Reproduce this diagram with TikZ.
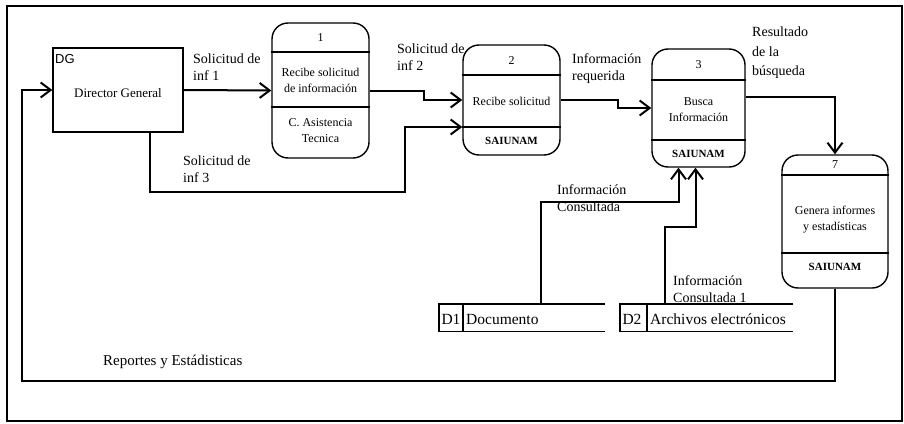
\documentclass[tikz,border=0pt]{standalone}
\usepackage{fontspec}
\setmainfont{Liberation Serif}
\newfontfamily\arialfont{Liberation Sans}
\usetikzlibrary{arrows.meta,calc}
\begin{document}
\begin{tikzpicture}[x=1pt,y=-1pt,
  flow/.style={line width=2pt,-{Straight Barb[length=10pt,width=15pt,line width=2pt]}},
  boxline/.style={line width=1.4pt},
  proc/.style={draw,line width=1.4pt,rounded corners=16pt,inner sep=0pt},
  lbl/.style={font=\fontsize{14}{17}\selectfont,align=left,anchor=north west,inner sep=0pt},
  ptxt/.style={font=\fontsize{12}{16}\selectfont,align=center,inner sep=0pt},
  pbold/.style={font=\fontsize{11}{14}\selectfont\bfseries,inner sep=0pt},
  stxt/.style={font=\fontsize{15.5}{18}\selectfont,inner sep=0pt}]
\useasboundingbox (0,0) rectangle (904,423);
% frame
\draw[line width=1.5pt] (7,6) rectangle (902,421);

% Director General
\node[draw,line width=1.4pt,minimum width=130pt,minimum height=84pt,inner sep=0pt] (dg) at (118,90) {};
\node[anchor=west,inner sep=0pt,font=\arialfont\fontsize{13}{15}\selectfont] (dgl) at (55,59) {DG};
\node[font=\fontsize{13}{16}\selectfont,inner sep=0pt] (dgt) at (118,93) {Director General};

% Process 1
\node[proc,minimum width=97pt,minimum height=135pt] (p1) at (320.5,90.5) {};
\draw[boxline] (p1.west |- 0,52) -- (p1.east |- 0,52);
\draw[boxline] (p1.west |- 0,107) -- (p1.east |- 0,107);
\node[ptxt] (p1n) at (320.5,38) {1};
\node[ptxt] (p1t) at (320.5,80) {Recibe solicitud\\de información};
\node[ptxt] (p1s) at (320.5,131) {C. Asistencia\\Tecnica};

% Process 2
\node[proc,minimum width=97pt,minimum height=110pt] (p2) at (511.5,100) {};
\draw[boxline] (p2.west |- 0,75) -- (p2.east |- 0,75);
\draw[boxline] (p2.west |- 0,127) -- (p2.east |- 0,127);
\node[ptxt] (p2n) at (511.5,61) {2};
\node[ptxt] (p2t) at (511.5,101) {Recibe solicitud};
\node[pbold] (p2s) at (511.5,141) {SAIUNAM};

% Process 3
\node[proc,minimum width=93pt,minimum height=118pt] (p3) at (698.5,108) {};
\draw[boxline] (p3.west |- 0,80) -- (p3.east |- 0,80);
\draw[boxline] (p3.west |- 0,140) -- (p3.east |- 0,140);
\node[ptxt] (p3n) at (698.5,65) {3};
\node[ptxt] (p3t) at (698.5,110) {Busca\\Información};
\node[pbold] (p3s) at (698.5,154) {SAIUNAM};

% Process 7
\node[proc,minimum width=106pt,minimum height=133pt] (p7) at (835,221.5) {};
\draw[boxline] (p7.west |- 0,175) -- (p7.east |- 0,175);
\draw[boxline] (p7.west |- 0,253) -- (p7.east |- 0,253);
\node[ptxt] (p7n) at (835,165) {7};
\node[ptxt] (p7t) at (835,220) {Genera informes\\y estadísticas};
\node[pbold] (p7s) at (835,267) {SAIUNAM};

% Data stores
\node[minimum width=166pt,minimum height=27pt,inner sep=0pt] (d1) at (522,317.5) {};
\draw[boxline] (d1.north east) -- (d1.north west) -- (d1.south west) -- (d1.south east);
\draw[boxline] ([xshift=24pt]d1.north west) -- ([xshift=24pt]d1.south west);
\node[stxt] (d1id) at (451,319) {D1};
\node[stxt,anchor=west] (d1t) at (466,319) {Documento};

\node[minimum width=173pt,minimum height=27pt,inner sep=0pt] (d2) at (706.5,317.5) {};
\draw[boxline] (d2.north east) -- (d2.north west) -- (d2.south west) -- (d2.south east);
\draw[boxline] ([xshift=27pt]d2.north west) -- ([xshift=27pt]d2.south west);
\node[stxt] (d2id) at (632,319) {D2};
\node[stxt,anchor=west] (d2t) at (650,319) {Archivos electrónicos};

% connectors
\draw[flow] (dg.east) -- (p1.west);
\draw[flow] (p1.east) -- ++(54,0) |- (p2.west);
\draw[flow] ([xshift=32pt]dg.south) |- (405,192) |- ([yshift=-27pt]p2.west);
\draw[flow] (p2.east) -- ++(57,0) |- (p3.west);
\draw[flow] ([yshift=11pt]p3.east) -| (p7.north);
\draw[flow] (p7.south) |- (22,381) |- (dg.west);
\draw[flow] ([xshift=19pt]d1.north) |- (678.5,202) -- ([xshift=-20pt]p3.south);
\draw[flow] ([xshift=-41.5pt]d2.north) |- (695.5,227) -- ([xshift=-3pt]p3.south);

% labels
\node[lbl] (l1) at (193,54) {Solicitud de\\inf 1};
\node[lbl] (l2) at (397,44) {Solicitud de\\inf 2};
\node[lbl] (l3) at (183,156) {Solicitud de\\inf 3};
\node[lbl] (l4) at (572,53) {Información\\requerida};
\node[lbl,font=\fontsize{14}{19.5}\selectfont] (l5) at (752,27) {Resultado\\de la\\búsqueda};
\node[lbl] (l6) at (557,184) {Información\\Consultada};
\node[lbl] (l7) at (673,275) {Información\\Consultada 1};
\node[font=\fontsize{15}{18}\selectfont,anchor=west,inner sep=0pt] (l8) at (103,362) {Reportes y Estádisticas};
\end{tikzpicture}
\end{document}
